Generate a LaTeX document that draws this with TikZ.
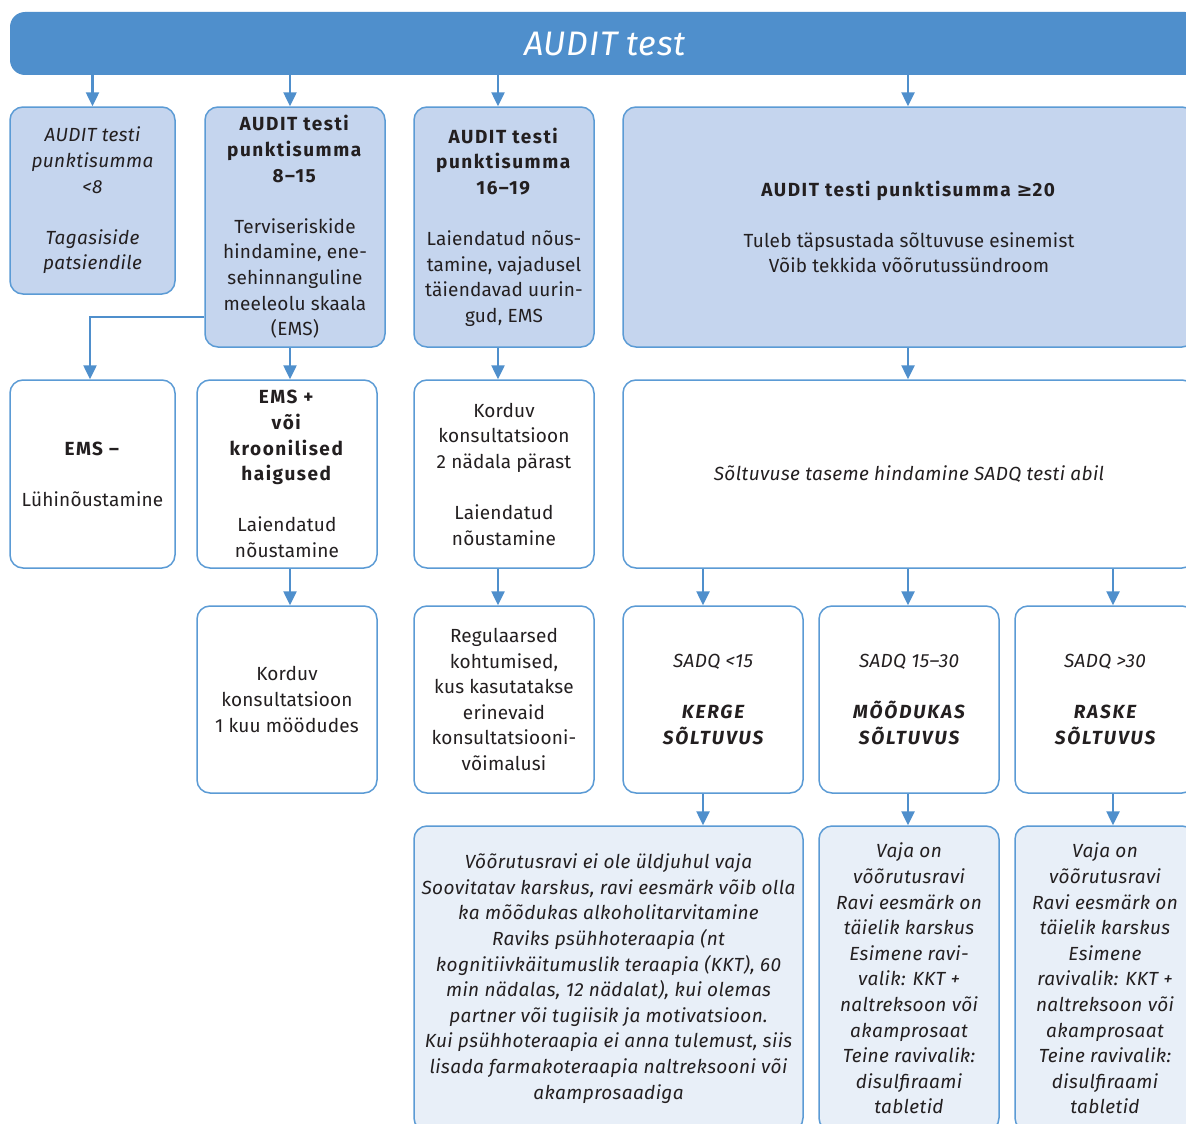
\documentclass[tikz,border=0pt]{standalone}
\usepackage{fontspec}
\setmainfont{Fira Sans}[UprightFeatures={LetterSpace=1}, ItalicFeatures={LetterSpace=2}, BoldFeatures={LetterSpace=8}, BoldItalicFeatures={LetterSpace=10}]
\newfontfamily\symf{DejaVu Sans}
\usetikzlibrary{arrows.meta}
\definecolor{bar}{HTML}{4F8FCC}
\definecolor{edgec}{HTML}{5B9BD5}
\definecolor{fillA}{HTML}{C5D5EE}
\definecolor{fillB}{HTML}{E8EFF8}
\definecolor{ink}{HTML}{231F20}
\newcommand{\skipl}{\\[25.6pt]}
\begin{document}
\begin{tikzpicture}[x=1pt,y=-1pt,
  box/.style={draw=edgec, line width=1.5pt, rounded corners=13pt, inner sep=0pt, align=center, text=ink, font=\fontsize{19}{25.6}\selectfont},
  dark/.style={box, fill=fillA},
  light/.style={box, fill=fillB},
  plain/.style={box, fill=white},
  sz/.style 2 args={minimum width=#1pt, minimum height=#2pt},
  arr/.style={draw=bar, line width=2.5pt, -{Triangle[length=14pt,width=13pt]}}]
\useasboundingbox (0,0) rectangle (1186,1124);
\clip (0,0) rectangle (1186,1124);
\fill[white] (0,0) rectangle (1186,1124);

\node[fill=bar, rounded corners=15pt, minimum width=1190pt, minimum height=63pt, inner sep=0pt, text=white, font=\fontsize{34}{40}\selectfont\itshape] (T) at (605,43.5) {AUDIT test};

\node[dark, sz={165}{187}, font=\fontsize{19}{25.6}\selectfont\itshape] (A) at (92.5,200.5) {AUDIT testi\\punktisumma\\<8\skipl Tagasiside\\patsiendile};
\node[dark, sz={180}{240}] (B) at (295,227) {\textbf{AUDIT testi}\\\textbf{punktisumma}\\\textbf{8–15}\skipl Terviseriskide\\hindamine, ene-\\sehinnanguline\\meeleolu skaala\\(EMS)};
\node[dark, sz={180}{240}] (C) at (504,227) {\textbf{AUDIT testi}\\\textbf{punktisumma}\\\textbf{16–19}\skipl Laiendatud nõus-\\tamine, vajadusel\\täiendavad uurin-\\gud, EMS};
\node[dark, sz={572}{240}] (D) at (909,227) {\textbf{AUDIT testi punktisumma {\symf ≥}20}\skipl Tuleb täpsustada sõltuvuse esinemist\\Võib tekkida võõrutussündroom};

\node[plain, sz={165}{188}] (E) at (92.5,474) {\textbf{EMS –}\skipl Lühinõustamine};
\node[plain, sz={180}{188}] (F) at (287,474) {\textbf{EMS +}\\\textbf{või}\\\textbf{kroonilised}\\\textbf{haigused}\skipl Laiendatud\\nõustamine};
\node[plain, sz={180}{188}] (G) at (504,474) {Korduv\\konsultatsioon\\2 nädala pärast\skipl Laiendatud\\nõustamine};
\node[plain, sz={572}{188}, font=\fontsize{19}{25.6}\selectfont\itshape] (H) at (909,474) {Sõltuvuse taseme hindamine SADQ testi abil};

\node[plain, sz={180}{187}] (I) at (287,699.5) {Korduv\\konsultatsioon\\1 kuu möödudes};
\node[plain, sz={180}{187}] (J) at (504,699.5) {Regulaarsed\\kohtumised,\\kus kasutatakse\\erinevaid\\konsultatsiooni-\\võimalusi};
\node[plain, sz={180}{187}, font=\fontsize{19}{25.6}\selectfont\itshape] (K) at (713,699.5) {SADQ <15\skipl\textbf{KERGE}\\\textbf{SÕLTUVUS}};
\node[plain, sz={180}{187}, font=\fontsize{19}{25.6}\selectfont\itshape] (L) at (909,699.5) {SADQ 15–30\skipl\textbf{MÕÕDUKAS}\\\textbf{SÕLTUVUS}};
\node[plain, sz={180}{187}, font=\fontsize{19}{25.6}\selectfont\itshape] (M) at (1105,699.5) {SADQ >30\skipl\textbf{RASKE}\\\textbf{SÕLTUVUS}};

\node[light, sz={389}{305}, font=\fontsize{19}{25.6}\selectfont\itshape] (N) at (608.5,978.5) {Võõrutusravi ei ole üldjuhul vaja\\Soovitatav karskus, ravi eesmärk võib olla\\ka mõõdukas alkoholitarvitamine\\Raviks psühhoteraapia (nt\\kognitiivkäitumuslik teraapia (KKT), 60\\min nädalas, 12 nädalat), kui olemas\\partner või tugiisik ja motivatsioon.\\Kui psühhoteraapia ei anna tulemust, siis\\lisada farmakoteraapia naltreksooni või\\akamprosaadiga};
\node[light, sz={180}{305}, font=\fontsize{19}{25.6}\selectfont\itshape] (O) at (909,978.5) {Vaja on\\võõrutusravi\\Ravi eesmärk on\\täielik karskus\\Esimene ravi-\\valik: KKT +\\naltreksoon või\\akamprosaat\\Teine ravivalik:\\disulfiraami\\tabletid};
\node[light, sz={180}{305}, font=\fontsize{19}{25.6}\selectfont\itshape] (P) at (1105,978.5) {Vaja on\\võõrutusravi\\Ravi eesmärk on\\täielik karskus\\Esimene\\ravivalik: KKT +\\naltreksoon või\\akamprosaat\\Teine ravivalik:\\disulfiraami\\tabletid};

\coordinate (xA) at (92.5,0);
\coordinate (xB) at (290,0);
\coordinate (xC) at (498,0);
\coordinate (xD) at (908,0);
\coordinate (xK) at (703,0);
\coordinate (xM) at (1113,0);
\coordinate (bend) at (90,317);

\draw[arr] (T.south -| xA) -- (A.north -| xA);
\draw[arr] (T.south -| xB) -- (B.north -| xB);
\draw[arr] (T.south -| xC) -- (C.north -| xC);
\draw[arr] (T.south -| xD) -- (D.north -| xD);

\draw[arr] (B.west |- bend) -- (bend) -- (E.north -| bend);
\draw[arr] (B.south -| xB) -- (F.north -| xB);
\draw[arr] (C.south -| xC) -- (G.north -| xC);
\draw[arr] (D.south -| xD) -- (H.north -| xD);

\draw[arr] (F.south -| xB) -- (I.north -| xB);
\draw[arr] (G.south -| xC) -- (J.north -| xC);
\draw[arr] (H.south -| xK) -- (K.north -| xK);
\draw[arr] (H.south -| xD) -- (L.north -| xD);
\draw[arr] (H.south -| xM) -- (M.north -| xM);

\draw[arr] (K.south -| xK) -- (N.north -| xK);
\draw[arr] (L.south -| xD) -- (O.north -| xD);
\draw[arr] (M.south -| xM) -- (P.north -| xM);
\end{tikzpicture}
\end{document}
